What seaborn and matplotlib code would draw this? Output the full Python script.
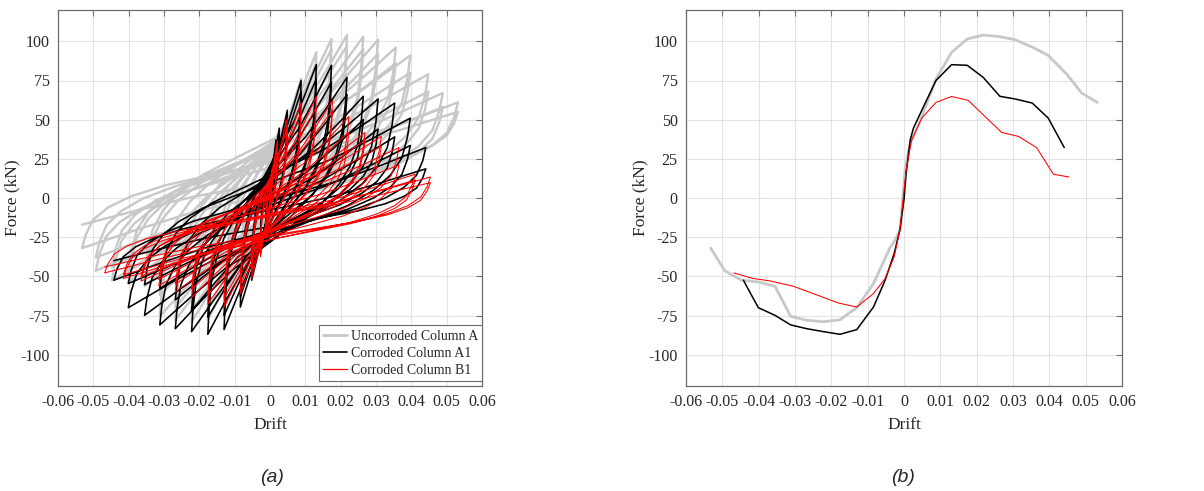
import matplotlib
matplotlib.use("Agg")
import matplotlib.pyplot as plt
import numpy as np
import pandas as pd
import seaborn as sns

# ---------------------------------------------------------------
# Backbone (envelope) curves: drift [-] vs lateral force [kN]
# ---------------------------------------------------------------
env_A_drift = [-0.0532, -0.0493, -0.0447, -0.0401, -0.0355, -0.0312, -0.0268,
               -0.0222, -0.0176, -0.0130, -0.0084, -0.0039, -0.0025, -0.0011,
               0.0003, 0.0015, 0.0049, 0.0088, 0.0131, 0.0174, 0.0218, 0.0264,
               0.0306, 0.0356, 0.0397, 0.0448, 0.0489, 0.0532]
env_A_force = [-32.0, -46.5, -52.5, -53.6, -56.3, -75.5, -78.0,
               -79.0, -77.7, -70.0, -54.6, -32.0, -27.0, -20.5,
               18.0, 33.0, 52.0, 76.0, 93.0, 101.5, 104.0, 103.0,
               101.0, 96.0, 91.0, 79.0, 67.0, 61.0]

env_A1_drift = [-0.0442, -0.0401, -0.0355, -0.0312, -0.0268, -0.0222, -0.0176,
                -0.0130, -0.0084, -0.0052, -0.0027, -0.0011, 0.0000, 0.0006,
                0.0017, 0.0026, 0.0049, 0.0088, 0.0131, 0.0174, 0.0218, 0.0264,
                0.0306, 0.0353, 0.0397, 0.0441]
env_A1_force = [-52.5, -70.0, -74.9, -81.0, -83.4, -85.3, -87.0,
                -84.0, -69.6, -52.5, -35.4, -20.0, -1.0, 16.0,
                37.0, 44.6, 56.0, 75.0, 85.1, 84.7, 77.0, 64.9,
                63.2, 60.6, 51.0, 32.2]

env_B1_drift = [-0.0468, -0.0415, -0.0369, -0.0305, -0.0250, -0.0181, -0.0130,
                -0.0084, -0.0052, -0.0027, -0.0011, 0.0006, 0.0021, 0.0049,
                0.0088, 0.0131, 0.0177, 0.0223, 0.0269, 0.0315, 0.0365, 0.0411,
                0.0454]
env_B1_force = [-47.8, -51.4, -52.9, -56.3, -61.0, -67.0, -69.6,
                -61.0, -51.4, -37.5, -20.0, 18.0, 37.0, 51.0,
                61.0, 64.8, 62.3, 52.0, 41.8, 39.3, 32.2, 15.2,
                13.4]

# ---------------------------------------------------------------
# Cyclic peaks per drift level: 1st and 2nd cycle at each level
# ---------------------------------------------------------------
A_pos_drift = [0.0015, 0.0049, 0.0088, 0.0131, 0.0174, 0.0218, 0.0264,
               0.0306, 0.0356, 0.0397, 0.0448, 0.0489, 0.0532]
A_pos_f1 = [33.0, 52.0, 76.0, 93.0, 101.5, 104.0, 103.0, 101.0, 96.0, 91.0, 79.0, 67.0, 61.0]
A_pos_f2 = [30.0, 48.0, 70.0, 86.0, 95.0, 97.0, 95.0, 92.0, 86.0, 80.0, 68.0, 58.0, 55.0]
A_neg_drift = [-0.0025, -0.0039, -0.0084, -0.0130, -0.0176, -0.0222, -0.0268,
               -0.0312, -0.0355, -0.0401, -0.0447, -0.0493, -0.0532]
A_neg_f1 = [-27.0, -32.0, -54.6, -70.0, -77.7, -79.0, -78.0, -75.5, -56.3, -53.6, -52.5, -46.5, -32.0]
A_neg_f2 = [-24.0, -29.0, -50.0, -64.0, -71.0, -72.0, -70.0, -62.0, -50.0, -46.0, -44.0, -38.0, -17.0]

A1_pos_drift = [0.0017, 0.0026, 0.0049, 0.0088, 0.0131, 0.0174, 0.0218,
                0.0264, 0.0306, 0.0353, 0.0397, 0.0441]
A1_pos_f1 = [37.0, 44.6, 56.0, 75.0, 85.1, 84.7, 77.0, 64.9, 63.2, 60.6, 51.0, 32.2]
A1_pos_f2 = [33.0, 40.0, 50.0, 68.0, 76.0, 74.0, 66.0, 50.0, 44.0, 39.0, 33.5, 18.6]
A1_neg_drift = [-0.0011, -0.0027, -0.0052, -0.0084, -0.0130, -0.0176, -0.0222,
                -0.0268, -0.0312, -0.0355, -0.0401, -0.0442]
A1_neg_f1 = [-20.0, -35.4, -52.5, -69.6, -84.0, -87.0, -85.3, -83.4, -81.0, -74.9, -70.0, -52.5]
A1_neg_f2 = [-18.0, -32.0, -48.0, -63.0, -75.0, -76.0, -72.0, -65.0, -57.8, -55.3, -54.6, -40.0]

B1_pos_drift = [0.0006, 0.0021, 0.0049, 0.0088, 0.0131, 0.0177, 0.0223,
                0.0269, 0.0315, 0.0365, 0.0411, 0.0454]
B1_pos_f1 = [18.0, 37.0, 51.0, 61.0, 64.8, 62.3, 52.0, 41.8, 39.3, 32.2, 15.2, 13.4]
B1_pos_f2 = [16.0, 33.0, 46.0, 55.0, 58.0, 56.0, 42.0, 37.0, 33.0, 21.0, 11.5, 9.8]
B1_neg_drift = [-0.0011, -0.0027, -0.0052, -0.0084, -0.0130, -0.0176, -0.0222,
                -0.0268, -0.0315, -0.0365, -0.0415, -0.0468]
B1_neg_f1 = [-20.0, -37.5, -51.4, -61.0, -69.6, -67.5, -63.5, -60.0, -56.0, -53.0, -51.4, -47.8]
B1_neg_f2 = [-18.0, -34.0, -47.0, -56.0, -64.0, -62.0, -58.0, -55.0, -52.0, -50.0, -49.0, -44.0]

# Shape of one half-cycle between two opposite peaks: fraction of the
# drift travel (t) against fraction of the force travel (s).
# Stiff unloading at the start, softening towards the next peak.
branch_t = [0.0, 0.01, 0.03, 0.07, 0.13, 0.22, 0.35, 0.50, 0.70, 0.85, 1.0]
branch_s = [0.0, 0.10, 0.21, 0.30, 0.38, 0.46, 0.54, 0.63, 0.75, 0.87, 1.0]

labels = ["Uncorroded Column A", "Corroded Column A1", "Corroded Column B1"]
colors = ["#c8c8c8", "#000000", "#ff0000"]
widths_a = [1.7, 1.15, 0.75]
widths_b = [2.0, 1.1, 0.75]

x_ticks = [-0.06, -0.05, -0.04, -0.03, -0.02, -0.01, 0.0, 0.01, 0.02, 0.03, 0.04, 0.05, 0.06]
x_tick_labels = ["-0.06", "-0.05", "-0.04", "-0.03", "-0.02", "-0.01", "0",
                 "0.01", "0.02", "0.03", "0.04", "0.05", "0.06"]
y_ticks = [-100, -75, -50, -25, 0, 25, 50, 75, 100]
y_tick_labels = ["-100", "-75", "-50", "-25", "0", "25", "50", "75", "100"]


def hysteresis(pos_d, pos_f1, pos_f2, neg_d, neg_f1, neg_f2):
    """Chain the cycle peaks into one continuous drift-force path."""
    peaks = [(0.0, 0.0)]
    for i in range(len(pos_d)):
        for fp, fn in ((pos_f1[i], neg_f1[i]), (pos_f2[i], neg_f2[i])):
            peaks.append((pos_d[i], fp))
            peaks.append((neg_d[i], fn))
    t = np.asarray(branch_t)
    s = np.asarray(branch_s)
    xs, ys = [0.0], [0.0]
    for (da, fa), (db, fb) in zip(peaks[:-1], peaks[1:]):
        xs.extend(da + (db - da) * t[1:])
        ys.extend(fa + (fb - fa) * s[1:])
    return pd.DataFrame({"Drift": xs, "Force": ys})


loops = [
    hysteresis(A_pos_drift, A_pos_f1, A_pos_f2, A_neg_drift, A_neg_f1, A_neg_f2),
    hysteresis(A1_pos_drift, A1_pos_f1, A1_pos_f2, A1_neg_drift, A1_neg_f1, A1_neg_f2),
    hysteresis(B1_pos_drift, B1_pos_f1, B1_pos_f2, B1_neg_drift, B1_neg_f1, B1_neg_f2),
]
envelopes = [
    pd.DataFrame({"Drift": env_A_drift, "Force": env_A_force}),
    pd.DataFrame({"Drift": env_A1_drift, "Force": env_A1_force}),
    pd.DataFrame({"Drift": env_B1_drift, "Force": env_B1_force}),
]

sns.set_theme(style="white")
plt.rcParams["font.family"] = ["Liberation Serif", "DejaVu Serif"]

fig = plt.figure(figsize=(12.04, 4.91), dpi=100)
ax_a = fig.add_axes([58 / 1204, 1 - 386 / 491, (482 - 58) / 1204, (386 - 10) / 491])
ax_b = fig.add_axes([686 / 1204, 1 - 386 / 491, (1122 - 686) / 1204, (386 - 10) / 491])

for df, lab, col, lw in zip(loops, labels, colors, widths_a):
    sns.lineplot(data=df, x="Drift", y="Force", sort=False, estimator=None,
                 color=col, linewidth=lw, label=lab, ax=ax_a)

for df, lab, col, lw in zip(envelopes, labels, colors, widths_b):
    sns.lineplot(data=df, x="Drift", y="Force", sort=False, estimator=None,
                 color=col, linewidth=lw, ax=ax_b, legend=False)

for ax in (ax_a, ax_b):
    ax.set_xlim(-0.06, 0.06)
    ax.set_ylim(-120, 120)
    ax.set_xticks(x_ticks)
    ax.set_xticklabels(x_tick_labels)
    ax.set_yticks(y_ticks)
    ax.set_yticklabels(y_tick_labels)
    ax.grid(True, color="#e3e3e3", linewidth=0.8)
    ax.set_axisbelow(True)
    ax.tick_params(direction="in", length=4, width=0.8, color="#6e6e6e",
                   top=True, right=True, labelsize=11.5, labelcolor="#262626",
                   pad=6)
    for sp in ax.spines.values():
        sp.set_color("#6e6e6e")
        sp.set_linewidth(0.9)
        sp.set_visible(True)
    ax.set_xlabel("Drift", fontsize=12.5, color="#262626", labelpad=5)
    ax.set_ylabel("Force (kN)", fontsize=12.5, color="#262626", labelpad=0)

leg = ax_a.legend(loc="lower right", bbox_to_anchor=(1.0, 5 / 376),
                  fontsize=10.0, frameon=True, fancybox=False,
                  edgecolor="#6e6e6e", framealpha=1.0, handlelength=1.7,
                  handletextpad=0.25, borderpad=0.3, labelspacing=0.3,
                  borderaxespad=0.0)
leg.get_frame().set_linewidth(0.8)
for line, lw in zip(leg.get_lines(), [2.0, 1.2, 0.9]):
    line.set_linewidth(lw)
for t in leg.get_texts():
    t.set_color("#262626")

fig.text(272 / 1204, 1 - 477 / 491, "(a)", ha="center", va="center",
         fontsize=14, style="italic", family=["Liberation Sans", "DejaVu Sans"])
fig.text(903 / 1204, 1 - 477 / 491, "(b)", ha="center", va="center",
         fontsize=14, style="italic", family=["Liberation Sans", "DejaVu Sans"])

fig.savefig("out.png", dpi=100)
